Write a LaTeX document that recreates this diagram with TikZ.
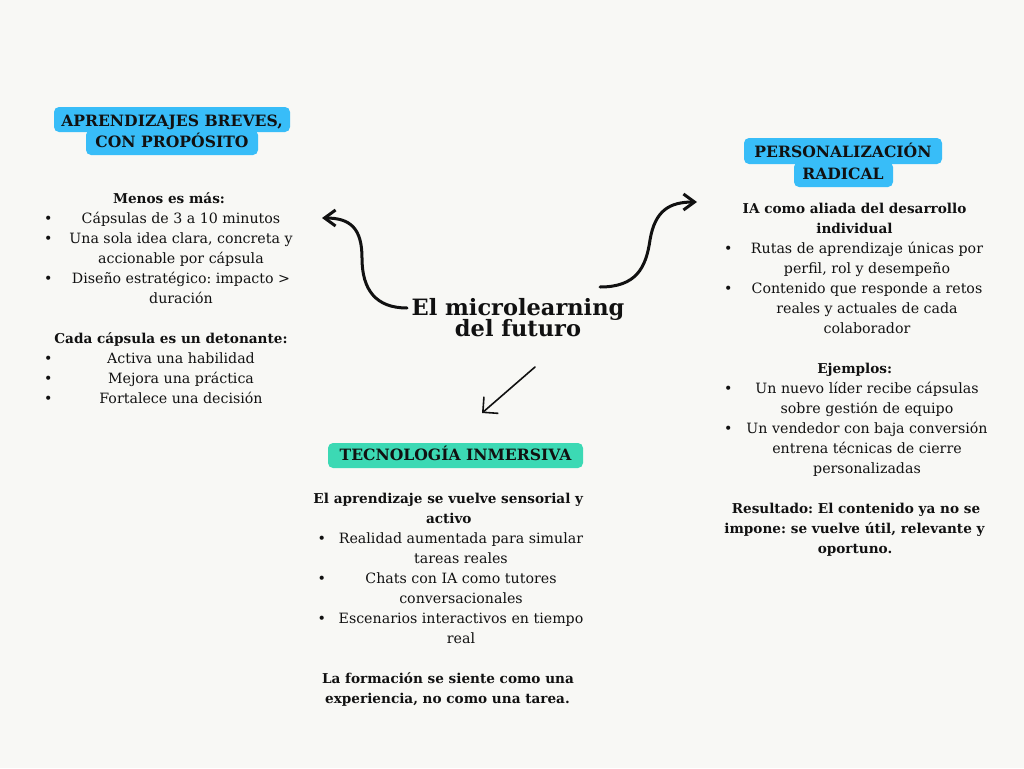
\documentclass[tikz,border=0pt]{standalone}
\usepackage{fontspec}
\setmainfont{DejaVu Serif}
\usetikzlibrary{arrows.meta}
\definecolor{bg}{HTML}{F8F8F5}
\definecolor{skyb}{HTML}{38BDF8}
\definecolor{mint}{HTML}{3CD9B4}
\definecolor{ink}{HTML}{111111}
\frenchspacing
\newcommand\tl[5][body]{\node[#1] (#2) at (#3,#4) {#5};}
\begin{document}
\begin{tikzpicture}[x=1pt,y=-1pt,
  body/.style={font=\fontsize{14.2}{20}\selectfont, anchor=base, inner sep=0pt, text=ink},
  head/.style={body, font=\fontsize{13.6}{20}\selectfont\bfseries},
  bul/.style={body},
  tbox/.style={fill=#1, rounded corners=5pt},
  ttext/.style={body, font=\fontsize{15.6}{20}\selectfont\bfseries},
  main/.style={body, font=\fontsize{22.5}{22}\selectfont\bfseries},
  bigarrow/.style={draw=ink, line width=3pt, line cap=round, -{Straight Barb[length=11pt,width=16pt]}},
  thinarrow/.style={draw=ink, line width=1.6pt, line cap=round, -{Straight Barb[length=11pt,width=22pt]}}
]
\fill[bg] (0,0) rectangle (1024,768);
\useasboundingbox (0,0) rectangle (1024,768);

% ---- title boxes
\fill[tbox=skyb] (54,107) rectangle (290,132);
\fill[tbox=skyb] (86,130) rectangle (258,155);
\tl[ttext]{ta1}{172}{126}{APRENDIZAJES BREVES,}
\tl[ttext]{ta2}{172}{147}{CON PROPÓSITO}

\fill[tbox=skyb] (744,138) rectangle (942,164);
\fill[tbox=skyb] (794,162) rectangle (893,187);
\tl[ttext]{tb1}{843}{157.3}{PERSONALIZACIÓN}
\tl[ttext]{tb2}{843}{179.3}{RADICAL}

\fill[tbox=mint] (328,443) rectangle (583,468);
\tl[ttext]{tc1}{455.5}{460.7}{TECNOLOGÍA INMERSIVA}

% ---- central title
\tl[main]{m1}{518}{315}{El microlearning}
\tl[main]{m2}{518}{336.7}{del futuro}

% ---- left block
\tl[head]{l0}{169}{203.3}{Menos es más:}
\tl[bul]{lb1}{48.3}{223.3}{•}
\tl{l1}{181}{223.3}{Cápsulas de 3 a 10 minutos}
\tl[bul]{lb2}{48.3}{243.3}{•}
\tl{l2}{181}{243.3}{Una sola idea clara, concreta y}
\tl{l3}{181}{263.3}{accionable por cápsula}
\tl[bul]{lb3}{48.3}{283.3}{•}
\tl{l4}{181}{283.3}{Diseño estratégico: impacto >}
\tl{l5}{181}{303.3}{duración}
\tl[head]{l6}{171}{343.3}{Cada cápsula es un detonante:}
\tl[bul]{lb4}{48.3}{363.3}{•}
\tl{l7}{181}{363.3}{Activa una habilidad}
\tl[bul]{lb5}{48.3}{383.3}{•}
\tl{l8}{181}{383.3}{Mejora una práctica}
\tl[bul]{lb6}{48.3}{403.3}{•}
\tl{l9}{181}{403.3}{Fortalece una decisión}

% ---- right block
\tl[head]{r0}{854.5}{213.3}{IA como aliada del desarrollo}
\tl[head]{r1}{854.5}{233.3}{individual}
\tl[bul]{rb1}{728.3}{253.3}{•}
\tl{r2}{867}{253.3}{Rutas de aprendizaje únicas por}
\tl{r3}{867}{273.3}{perfil, rol y desempeño}
\tl[bul]{rb2}{728.3}{293.3}{•}
\tl{r4}{867}{293.3}{Contenido que responde a retos}
\tl{r5}{867}{313.3}{reales y actuales de cada}
\tl{r6}{867}{333.3}{colaborador}
\tl[head]{r7}{854.7}{373.3}{Ejemplos:}
\tl[bul]{rb3}{728.3}{393.3}{•}
\tl{r8}{867}{393.3}{Un nuevo líder recibe cápsulas}
\tl{r9}{867}{413.3}{sobre gestión de equipo}
\tl[bul]{rb4}{728.3}{433.3}{•}
\tl{r10}{867}{433.3}{Un vendedor con baja conversión}
\tl{r11}{867}{453.3}{entrena técnicas de cierre}
\tl{r12}{867}{473.3}{personalizadas}
\tl[head]{r13}{856}{513.3}{Resultado: El contenido ya no se}
\tl[head]{r14}{854.5}{533.3}{impone: se vuelve útil, relevante y}
\tl[head]{r15}{855}{553.3}{oportuno.}

% ---- bottom block
\tl[head]{c0}{448.3}{503.3}{El aprendizaje se vuelve sensorial y}
\tl[head]{c1}{448.8}{523.3}{activo}
\tl[bul]{cb1}{321.7}{543.3}{•}
\tl{c2}{461}{543.3}{Realidad aumentada para simular}
\tl{c3}{461}{563.3}{tareas reales}
\tl[bul]{cb2}{321.7}{583.3}{•}
\tl{c4}{461}{583.3}{Chats con IA como tutores}
\tl{c5}{461}{603.3}{conversacionales}
\tl[bul]{cb3}{321.7}{623.3}{•}
\tl{c6}{461}{623.3}{Escenarios interactivos en tiempo}
\tl{c7}{461}{643.3}{real}
\tl[head]{c8}{448}{683.3}{La formación se siente como una}
\tl[head]{c9}{447.5}{703.3}{experiencia, no como una tarea.}

% ---- arrows
\coordinate (a1s) at (407,308);
\coordinate (a1e) at (322,218);
\coordinate (a2s) at (600,287);
\coordinate (a2e) at (697,202);
\coordinate (a3s) at (535,367);
\coordinate (a3e) at (482,413);
\draw[bigarrow] (a1s) .. controls (376,308) and (362,290) .. (362,258)
                 .. controls (362,228) and (350,218) .. (a1e);
\draw[bigarrow] (a2s) .. controls (636,287) and (646,268) .. (650,240)
                 .. controls (655,210) and (670,202) .. (a2e);
\draw[thinarrow] (a3s) -- (a3e);
\end{tikzpicture}
\end{document}
